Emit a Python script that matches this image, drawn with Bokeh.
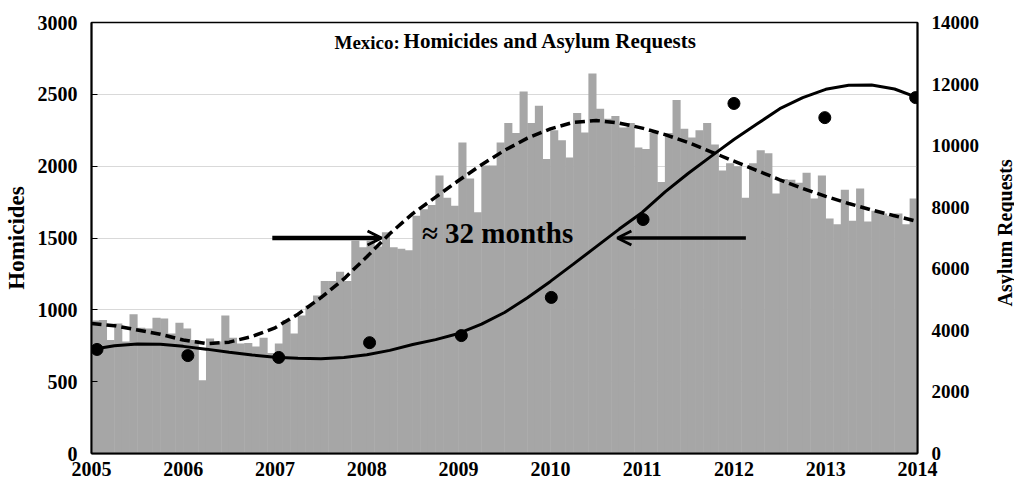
import math
from bokeh.plotting import figure
from bokeh.layouts import row
from bokeh.models import (Range1d, LinearAxis, FixedTicker, Arrow, OpenHead, Label,
                          ColumnDataSource)
from bokeh.embed import file_html
from bokeh.resources import INLINE
import numpy as np

# Monthly homicides, Jan 2005 .. Dec 2013
homicides = [
    925, 930, 790, 905, 780, 970, 875, 870, 945, 940, 835, 910,        # 2005
    870, 790, 510, 800, 780, 960, 805, 765, 770, 745, 805, 700,        # 2006
    765, 930, 835, 960, 1030, 1100, 1200, 1200, 1265, 1200, 1480, 1435,  # 2007
    1480, 1440, 1540, 1435, 1425, 1415, 1655, 1700, 1730, 1935, 1780, 1725,  # 2008
    2165, 1915, 1680, 2005, 2005, 2165, 2300, 2230, 2520, 2300, 2420, 2050,  # 2009
    2250, 2180, 2060, 2370, 2235, 2645, 2400, 2330, 2350, 2270, 2300, 2130,  # 2010
    2120, 2230, 1890, 2230, 2460, 2260, 2200, 2250, 2300, 2150, 1970, 2020,  # 2011
    2000, 1780, 2020, 2110, 2090, 1810, 1910, 1905, 1885, 1955, 1775, 1935,  # 2012
    1635, 1595, 1835, 1620, 1845, 1615, 1690, 1670, 1655, 1670, 1595, 1775,  # 2013
]

# Smoothed trends, sampled quarterly from 2005.0 to 2014.0
trend_t = [2005 + q / 4 for q in range(37)]
homicide_trend = [
    905, 890, 860, 830, 790, 765, 775, 815, 875, 970, 1085, 1215,
    1370, 1530, 1670, 1785, 1900, 2010, 2110, 2195, 2260, 2305, 2318, 2300,
    2265, 2220, 2165, 2100, 2035, 1970, 1905, 1845, 1790, 1740, 1695, 1655, 1615,
]
asylum_trend = [
    3380, 3500, 3560, 3550, 3480, 3390, 3290, 3200, 3130, 3090, 3080, 3120,
    3210, 3350, 3540, 3700, 3900, 4200, 4580, 5060, 5590, 6150, 6720, 7290,
    7830, 8500, 9094, 9650, 10200, 10700, 11200, 11560, 11830, 11960, 11970, 11840, 11560,
]

# Annual asylum requests
asylum_x = [2005.06, 2006.05, 2007.04, 2008.03, 2009.03, 2010.01, 2011.01, 2012.0, 2012.99, 2013.98]
asylum_requests = [3380, 3180, 3120, 3600, 3830, 5070, 7600, 11370, 10910, 11560]

year_ticks = list(range(2005, 2015))
homicide_ticks = list(range(0, 3001, 500))
asylum_ticks = list(range(0, 14001, 2000))

# Lag annotation: both arrows sit at the 1500-homicide level
lag_level = 1500
lead_arrow = (2006.97, 2008.16)
lag_arrow = (2012.13, 2010.73)

FONT = "Liberation Serif"
BAR = "#a6a6a6"

p = figure(width=994, height=487, output_backend="svg", toolbar_location=None,
           x_range=Range1d(2005, 2014), y_range=Range1d(0, 3000),
           min_border_left=89, min_border_right=77, min_border_top=22, min_border_bottom=34)
p.extra_y_ranges = {"asylum": Range1d(0, 14000)}
p.background_fill_color = "white"
p.border_fill_color = "white"
p.outline_line_color = "black"
p.outline_line_width = 1.5

month_x = 2005 + (np.arange(len(homicides)) + 0.5) / 12
src = ColumnDataSource(dict(x=month_x, top=homicides))
p.vbar(x="x", top="top", width=1.06 / 12, source=src, fill_color=BAR, line_color=None)

p.line(trend_t, homicide_trend, line_color="black", line_width=3.5, line_dash="10 5")
p.line(trend_t, asylum_trend, line_color="black", line_width=3, y_range_name="asylum")
p.scatter(asylum_x, asylum_requests, size=12, color="black", y_range_name="asylum")

p.add_layout(Arrow(end=OpenHead(size=14, line_width=3, line_color="black"),
                   x_start=lead_arrow[0], x_end=lead_arrow[1], y_start=lag_level, y_end=lag_level,
                   line_width=4.5, line_color="black"))
p.add_layout(Arrow(end=OpenHead(size=14, line_width=3, line_color="black"),
                   x_start=lag_arrow[0], x_end=lag_arrow[1], y_start=lag_level, y_end=lag_level,
                   line_width=3.5, line_color="black"))

p.add_layout(Label(x=2008.60, y=1420, text="\u2248 32 months", text_font=FONT,
                   text_font_style="bold", text_font_size="29px", text_color="black"))
p.add_layout(Label(x=2008.36, y=2785, text="Mexico:", text_font=FONT, text_align="right",
                   text_font_style="bold", text_font_size="19px", text_color="black"))
p.add_layout(Label(x=2008.40, y=2785, text="Homicides and Asylum Requests", text_font=FONT,
                   text_font_style="bold", text_font_size="21px", text_color="black"))

# axes
p.xaxis.ticker = FixedTicker(ticks=year_ticks)
p.yaxis.ticker = FixedTicker(ticks=homicide_ticks)
p.xgrid.visible = False
p.ygrid.ticker = FixedTicker(ticks=homicide_ticks)
p.ygrid.grid_line_color = "#d9d9d9"
p.ygrid.grid_line_width = 1

right = LinearAxis(y_range_name="asylum", ticker=FixedTicker(ticks=asylum_ticks))
p.add_layout(right, "right")

p.yaxis[0].axis_label = "Homicides"
for ax in [p.xaxis[0], p.yaxis[0], right]:
    ax.axis_line_color = "black"
    ax.axis_line_width = 2
    ax.major_tick_line_color = "black"
    ax.major_tick_out = 0
    ax.major_tick_in = 0
    ax.minor_tick_line_color = None
    ax.major_label_text_font = FONT
    ax.major_label_text_font_style = "bold"
    ax.major_label_text_font_size = "20px"
    ax.major_label_text_color = "black"
    ax.axis_label_text_font = FONT
    ax.axis_label_text_font_style = "bold"
    ax.axis_label_text_font_size = "20px"
    ax.axis_label_text_color = "black"
p.yaxis[0].major_tick_in = 6
p.yaxis[0].major_label_standoff = 14
p.yaxis[0].axis_label_standoff = 6
p.yaxis[0].axis_label_text_font_size = "23px"
right.major_label_text_font_size = "19px"
right.major_label_standoff = 14
p.xaxis[0].major_label_standoff = 8

# narrow strip holding the right-hand axis title, reading bottom to top
strip = figure(width=20, height=487, output_backend="svg", toolbar_location=None,
               x_range=Range1d(0, 1), y_range=Range1d(0, 1),
               x_axis_location=None, y_axis_location=None, min_border=0)
strip.outline_line_color = None
strip.grid.visible = False
strip.add_layout(Label(x=0.5, y=0.512, text="Asylum Requests", text_font=FONT, angle=math.pi / 2,
                       text_align="center", text_baseline="middle",
                       text_font_style="bold", text_font_size="20px", text_color="black"))

open("out.html", "w").write(file_html(row(p, strip), INLINE))
